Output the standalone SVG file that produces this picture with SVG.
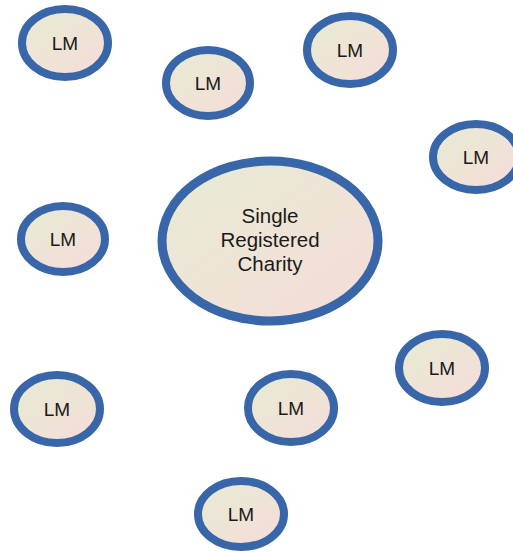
<svg xmlns="http://www.w3.org/2000/svg" width="513" height="552" viewBox="0 0 513 552">
<defs>
<linearGradient id="g" x1="0" y1="0" x2="1" y2="1">
<stop offset="0" stop-color="#e6ecd4"/>
<stop offset="1" stop-color="#f6dcd8"/>
</linearGradient>
<style>
.lm{fill:url(#g);stroke:#3866a8;stroke-width:8}
.big{fill:url(#g);stroke:#3866a8;stroke-width:9}
text{font-family:"Liberation Sans",Arial,sans-serif;fill:#1a1a1a;text-anchor:middle}
.t{font-size:19px}
.tb{font-size:20.5px}
</style>
</defs>
<rect width="513" height="552" fill="#ffffff"/>
<g id="connectors"/>
<g id="n1"><ellipse class="lm" cx="65" cy="43" rx="43" ry="34"/><text class="t" x="65" y="50">LM</text></g>
<g id="n2"><ellipse class="lm" cx="208" cy="83" rx="42" ry="33"/><text class="t" x="208" y="90">LM</text></g>
<g id="n3"><ellipse class="lm" cx="350" cy="50" rx="43" ry="34"/><text class="t" x="350" y="57">LM</text></g>
<g id="n4"><ellipse class="lm" cx="476" cy="157" rx="43" ry="33"/><text class="t" x="476" y="164">LM</text></g>
<g id="center"><ellipse class="big" cx="270" cy="241" rx="108" ry="80"/>
<text class="tb"><tspan x="270" y="223">Single</tspan><tspan x="270" y="247">Registered</tspan><tspan x="270" y="271">Charity</tspan></text></g>
<g id="n6"><ellipse class="lm" cx="63" cy="239" rx="42" ry="33"/><text class="t" x="63" y="246">LM</text></g>
<g id="n7"><ellipse class="lm" cx="442" cy="368" rx="43" ry="34"/><text class="t" x="442" y="375">LM</text></g>
<g id="n8"><ellipse class="lm" cx="57" cy="409" rx="43" ry="34"/><text class="t" x="57" y="416">LM</text></g>
<g id="n9"><ellipse class="lm" cx="291" cy="408" rx="43" ry="34"/><text class="t" x="291" y="415">LM</text></g>
<g id="n10"><ellipse class="lm" cx="241" cy="514" rx="43" ry="33"/><text class="t" x="241" y="521">LM</text></g>
</svg>
